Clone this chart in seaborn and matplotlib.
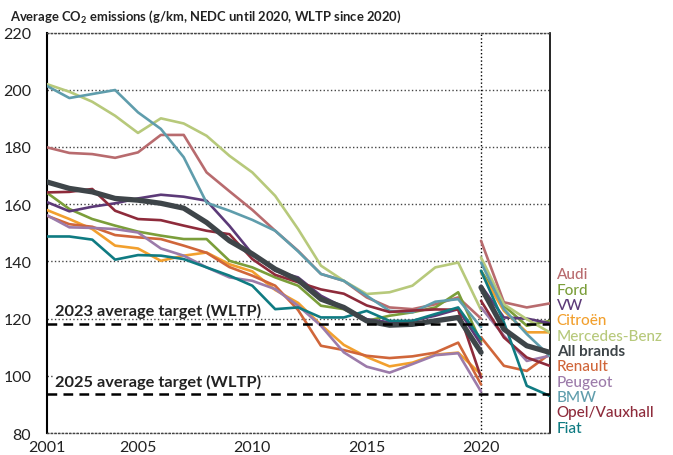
import pandas as pd
import seaborn as sns
import matplotlib.pyplot as plt

# data (g/km)
years_nedc = list(range(2001, 2021))
years_wltp = [2020, 2021, 2022, 2023]

brands = ['Audi', 'Ford', 'VW', 'Citroën', 'Mercedes-Benz', 'All brands',
          'Renault', 'Peugeot', 'BMW', 'Opel/Vauxhall', 'Fiat']

audi_nedc = [179.9, 177.9, 177.5, 176.2, 178.1, 184.2, 184.2, 171.1, 164.5, 158.0,
             150.7, 143.7, 135.6, 133.2, 127.4, 123.9, 123.3, 125.0, 127.4, 120.0]
audi_wltp = [147.2, 125.7, 123.9, 125.3]

ford_nedc = [164.1, 158.3, 154.8, 152.5, 150.4, 149.0, 147.8, 147.8, 140.2, 137.9,
             134.4, 131.5, 124.5, 123.3, 119.2, 121.0, 122.2, 123.9, 129.2, 111.7]
ford_wltp = [136.7, 124.5, 117.5, 119.2]

vw_nedc = [160.8, 157.5, 159.1, 160.3, 162.0, 163.3, 162.6, 161.2, 152.4, 142.6,
           136.7, 134.4, 128.0, 123.9, 119.8, 118.7, 119.2, 121.0, 123.3, 111.0]
vw_wltp = [131.5, 120.4, 120.0, 118.4]

citroen_nedc = [158.0, 154.8, 151.3, 145.5, 144.5, 140.2, 142.0, 143.1, 139.0, 136.5,
                130.0, 125.5, 117.8, 110.8, 106.6, 103.3, 104.6, 107.4, 108.1, 100.5]
citroen_wltp = [136.2, 122.7, 115.2, 115.2]

mercedes_nedc = [202.0, 199.3, 195.8, 190.9, 184.9, 190.0, 188.2, 183.9, 176.9, 171.1,
                 162.9, 151.3, 138.5, 133.2, 128.6, 129.2, 131.5, 137.9, 139.6, 123.0]
mercedes_wltp = [141.4, 125.0, 119.8, 115.2]

all_nedc = [167.8, 165.5, 164.3, 162.0, 161.4, 160.3, 158.6, 153.6, 147.2, 142.6,
            137.3, 133.5, 126.8, 123.9, 119.2, 117.7, 118.0, 119.2, 120.4, 108.2]
all_wltp = [130.9, 116.3, 110.5, 108.2]

renault_nedc = [156.0, 153.0, 152.1, 149.2, 148.4, 147.8, 145.5, 143.0, 138.0, 135.0,
                131.5, 123.0, 110.5, 109.0, 107.0, 106.2, 106.8, 108.1, 111.6, 97.0]
renault_wltp = [113.5, 103.5, 101.7, 107.6]

peugeot_nedc = [156.2, 151.9, 151.7, 151.3, 150.1, 144.5, 142.0, 137.9, 134.4, 133.2,
                130.3, 124.5, 117.5, 108.2, 103.2, 101.1, 104.1, 107.2, 107.9, 94.5]
peugeot_wltp = [123.9, 114.0, 105.2, 107.0]

bmw_nedc = [201.4, 197.1, 198.5, 199.9, 192.1, 186.3, 176.4, 160.5, 157.7, 154.5,
            150.7, 143.5, 135.6, 133.2, 128.0, 122.7, 122.2, 125.9, 126.8, 117.0]
bmw_wltp = [139.6, 123.3, 114.6, 107.0]

opel_nedc = [164.1, 164.3, 165.3, 157.7, 154.8, 154.4, 152.5, 150.7, 149.5, 140.8,
             135.3, 132.7, 130.2, 128.7, 124.6, 122.3, 122.8, 123.2, 123.1, 99.4]
opel_wltp = [126.2, 113.4, 106.4, 103.5]

fiat_nedc = [148.7, 148.7, 147.6, 140.6, 142.2, 142.0, 140.8, 137.9, 135.0, 131.5,
             123.3, 123.9, 120.4, 120.4, 122.7, 119.2, 119.2, 121.6, 123.9, 112.8]
fiat_wltp = [136.7, 118.7, 96.5, 93.0]

target_2023 = 118.0
target_2025 = 93.6

colors = ['#B86B6E', '#7B9E3A', '#5C3A78', '#F2A02E', '#B7C97B', '#3E4549',
          '#D0663A', '#9C7BAA', '#5F9DAC', '#8E2B3B', '#0F7B82']

nedc = [audi_nedc, ford_nedc, vw_nedc, citroen_nedc, mercedes_nedc, all_nedc,
        renault_nedc, peugeot_nedc, bmw_nedc, opel_nedc, fiat_nedc]
wltp = [audi_wltp, ford_wltp, vw_wltp, citroen_wltp, mercedes_wltp, all_wltp,
        renault_wltp, peugeot_wltp, bmw_wltp, opel_wltp, fiat_wltp]

# long table
rows = []
for b, n, w in zip(brands, nedc, wltp):
    for y, v in zip(years_nedc, n):
        rows.append((b, 'NEDC', y, v))
    for y, v in zip(years_wltp, w):
        rows.append((b, 'WLTP', y, v))
df = pd.DataFrame(rows, columns=['brand', 'cycle', 'year', 'co2'])

#%%
sns.set_theme(style='white')
plt.rcParams['font.family'] = ['Lato', 'DejaVu Sans']
plt.rcParams['mathtext.default'] = 'regular'
plt.rcParams['lines.scale_dashes'] = False

fig = plt.figure(figsize=(6.73, 4.56), dpi=100)
ax = fig.add_axes([0.0691, 0.0482, 0.7476, 0.8783])

# brand lines, "All brands" drawn last and thicker
order = [b for b in brands if b != 'All brands'] + ['All brands']
for b in order:
    c = colors[brands.index(b)]
    lw = 3.8 if b == 'All brands' else 1.9
    for cyc in ['NEDC', 'WLTP']:
        sub = df[(df.brand == b) & (df.cycle == cyc)]
        sns.lineplot(data=sub, x='year', y='co2', color=c, linewidth=lw,
                     ax=ax, legend=False, zorder=4 if b == 'All brands' else 3)

# targets
for t in [target_2023, target_2025]:
    ax.axhline(t, color='black', linewidth=1.8, dashes=(7, 4.5), zorder=5)
ax.text(2001.35, target_2023 + 4.9, '2023 average target (WLTP)', fontsize=11.8,
        fontweight='bold', color='#222222', va='center',
        zorder=2, bbox=dict(facecolor='white', edgecolor='none', pad=0.5))
ax.text(2001.35, target_2025 + 4.3, '2025 average target (WLTP)', fontsize=11.8,
        fontweight='bold', color='#222222', va='center',
        zorder=2, bbox=dict(facecolor='white', edgecolor='none', pad=0.5))

# NEDC / WLTP break
ax.axvline(2020, color='black', linestyle=':', linewidth=1, zorder=1)

ax.set_xlim(2001, 2023)
ax.set_ylim(80, 220)
ax.set_yticks(range(80, 221, 20))
ax.set_xticks([2001, 2005, 2010, 2015, 2020])
ax.set_xticks(range(2001, 2024), minor=True)
ax.yaxis.grid(True, linestyle=':', color='#444444', linewidth=1)
ax.xaxis.grid(False)
ax.set_axisbelow(True)
ax.tick_params(axis='y', length=0, pad=11, labelsize=11.5, labelcolor='#222222')
ax.tick_params(axis='x', which='major', direction='in', length=9, width=1,
               color='#333333', labelsize=11.5, labelcolor='#222222', pad=5)
ax.tick_params(axis='x', which='minor', direction='in', length=4, width=1,
               color='#333333')
ax.set_xlabel('')
ax.set_ylabel('')

for s in ['left', 'right']:
    ax.spines[s].set_color('black')
ax.spines['left'].set_linewidth(1.5)
ax.spines['right'].set_linewidth(1.2)
for s in ['top', 'bottom']:
    ax.spines[s].set_linestyle(':')
    ax.spines[s].set_color('#444444')
    ax.spines[s].set_linewidth(1)

# brand labels on the right
lab_tr = ax.get_yaxis_transform()
for i, b in enumerate(brands):
    ax.text(1.014, 135.45 - i * 5.36, b, transform=lab_tr, fontsize=11,
            color=colors[i], va='center', ha='left', clip_on=False,
            fontweight='bold' if b == 'All brands' else 'medium')

fig.text(0.015, 0.962, 'Average CO$_2$ emissions (g/km, NEDC until 2020, WLTP since 2020)',
         fontsize=9.4, fontweight='bold', color='#222222', va='center')

plt.savefig('out.png', dpi=100)
